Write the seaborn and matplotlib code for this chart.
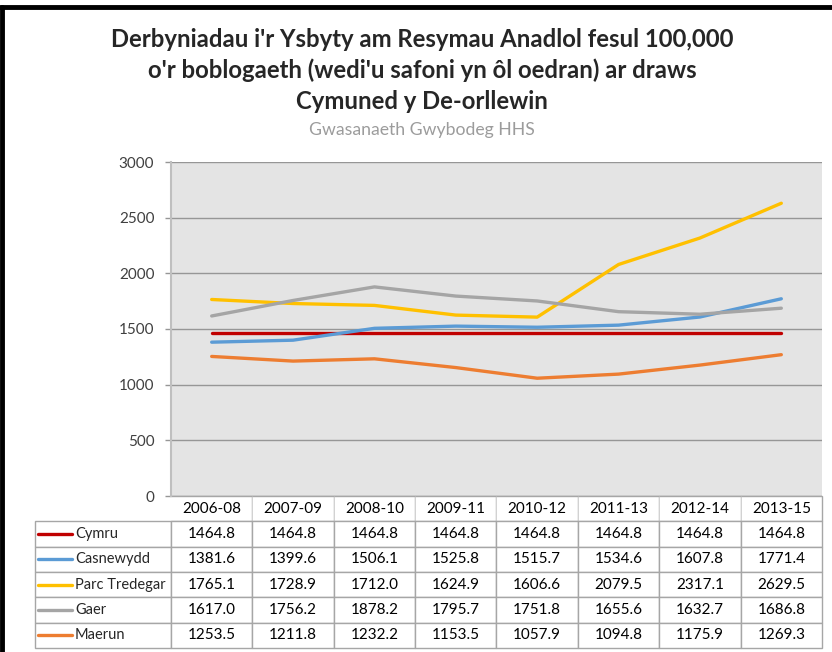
import matplotlib
matplotlib.use("Agg")
import matplotlib.pyplot as plt
from matplotlib.lines import Line2D
import pandas as pd
import seaborn as sns

periods = ['2006-08', '2007-09', '2008-10', '2009-11', '2010-12', '2011-13', '2012-14', '2013-15']
cymru = [1464.8, 1464.8, 1464.8, 1464.8, 1464.8, 1464.8, 1464.8, 1464.8]
casnewydd = [1381.6, 1399.6, 1506.1, 1525.8, 1515.7, 1534.6, 1607.8, 1771.4]
parc_tredegar = [1765.1, 1728.9, 1712.0, 1624.9, 1606.6, 2079.5, 2317.1, 2629.5]
gaer = [1617.0, 1756.2, 1878.2, 1795.7, 1751.8, 1655.6, 1632.7, 1686.8]
maerun = [1253.5, 1211.8, 1232.2, 1153.5, 1057.9, 1094.8, 1175.9, 1269.3]

series_names = ['Cymru', 'Casnewydd', 'Parc Tredegar', 'Gaer', 'Maerun']
series_vals = [cymru, casnewydd, parc_tredegar, gaer, maerun]
colours = ['#c00000', '#5b9bd5', '#ffc000', '#a5a5a5', '#ed7d31']
yticks = [0, 500, 1000, 1500, 2000, 2500, 3000]

rows = []
for name, vals in zip(series_names, series_vals):
    for i, (p, v) in enumerate(zip(periods, vals)):
        rows.append({'series': name, 'idx': i, 'period': p, 'value': v})
df = pd.DataFrame(rows)

sns.set_style('white')
plt.rcParams['font.family'] = ['Lato', 'DejaVu Sans']

W, H = 832, 652
fig = plt.figure(figsize=(W / 100, H / 100), dpi=100)

# plot area in pixels: x 171..822, y 162..496
left, right, top, bottom = 171, 822, 162, 496
ax = fig.add_axes([left / W, 1 - bottom / H, (right - left) / W, (bottom - top) / H])
ax.set_facecolor('#e4e4e4')

sns.lineplot(data=df, x='idx', y='value', hue='series', hue_order=series_names,
             palette=colours, linewidth=2.4, ax=ax, legend=False, sort=False)

ax.set_xlim(-0.5, len(periods) - 0.5)
ax.set_ylim(0, 3000)
ax.set_yticks(yticks)
ax.set_yticklabels([str(t) for t in yticks], fontsize=11, color='#404040')
ax.set_xticks([])
ax.set_xlabel('')
ax.set_ylabel('')
ax.yaxis.grid(True, color='#969696', linewidth=1)
ax.set_axisbelow(True)
ax.tick_params(axis='y', length=4, color='#969696', width=1, pad=8, left=True)
for s in ['top', 'right', 'bottom']:
    ax.spines[s].set_visible(False)
ax.spines['left'].set_color('#bfbfbf')
ax.spines['left'].set_linewidth(1.5)

# data table under the plot
tbl_top, tbl_bot, lab_left = 496, 648, 35
pw = right - left
ph = bottom - top
bx0 = (lab_left - left) / pw
by0 = -(tbl_bot - bottom) / ph
bw = (right - lab_left) / pw
bh = (tbl_bot - tbl_top) / ph
col_w = [(left - lab_left)] + [pw / len(periods)] * len(periods)
cell_text = [[''] + [f'{v:.1f}' for v in vals] for vals in series_vals]
tbl = ax.table(cellText=cell_text, colLabels=[''] + periods, colWidths=col_w,
               cellLoc='center', bbox=[bx0, by0, bw, bh])
tbl.auto_set_font_size(False)
for (r, c), cell in tbl.get_celld().items():
    cell.set_edgecolor('#a6a6a6')
    cell.set_linewidth(1)
    cell.set_facecolor('white')
    cell.get_text().set_fontsize(11)
    cell.get_text().set_color('black')
    if r == 0 and c == 0:
        cell.visible_edges = ''
    if r == 0 and c > 0:
        cell.visible_edges = 'BRT'

# row labels with legend keys
row_h = (tbl_bot - tbl_top) / (len(series_names) + 1)
for i, (name, col) in enumerate(zip(series_names, colours)):
    yc = tbl_top + row_h * (i + 1.5)
    fy = 1 - yc / H
    fig.add_artist(Line2D([38 / W, 72 / W], [fy, fy], color=col, linewidth=2.4,
                          transform=fig.transFigure))
    fig.text(75 / W, fy, name, fontsize=10.5, va='center', ha='left')

# titles
cx = 422 / W
fig.text(cx, 1 - 47 / H, "Derbyniadau i'r Ysbyty am Resymau Anadlol fesul 100,000",
         ha='center', va='baseline', fontsize=17.2, fontweight='bold')
fig.text(cx, 1 - 78 / H, "o'r boblogaeth (wedi'u safoni yn ôl oedran) ar draws",
         ha='center', va='baseline', fontsize=17.2, fontweight='bold')
fig.text(cx, 1 - 109 / H, "Cymuned y De-orllewin",
         ha='center', va='baseline', fontsize=17.2, fontweight='bold')
fig.text(cx, 1 - 135 / H, "Gwasanaeth Gwybodeg HHS",
         ha='center', va='baseline', fontsize=12.7, color='#9c9c9c')

# chart border (cropped: only left and top visible)
fig.add_artist(Line2D([1.5 / W, 1.5 / W], [0, 1 - 6.5 / H], color='black', linewidth=3.5,
                      transform=fig.transFigure))
fig.add_artist(Line2D([0, 1], [1 - 6.5 / H, 1 - 6.5 / H], color='black', linewidth=3.5,
                      transform=fig.transFigure))

fig.savefig('out.png', dpi=100)
